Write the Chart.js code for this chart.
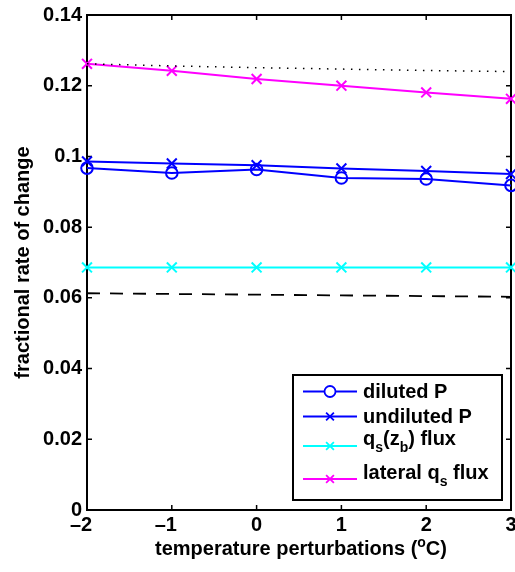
<!DOCTYPE html>
<html><head><meta charset="utf-8">
<script src="https://cdn.jsdelivr.net/npm/chart.js@4/dist/chart.umd.min.js"></script>
<style>html,body{margin:0;padding:0;background:#fff;} #wrap{width:515px;height:572px;position:relative;}</style>
</head><body><div id="wrap"><canvas id="c" width="515" height="572"></canvas></div>
<script>
// ---- data ----
const temps = [-2, -1, 0, 1, 2, 3];
const dilutedP = [0.0967, 0.0953, 0.0963, 0.0939, 0.0936, 0.0918];
const undilutedP = [0.0986, 0.0980, 0.0975, 0.0966, 0.0959, 0.0950];
const qsZbFlux = [0.0686, 0.0686, 0.0686, 0.0686, 0.0686, 0.0686];
const lateralQsFlux = [0.1262, 0.1242, 0.1219, 0.1200, 0.1181, 0.1163];
const dottedRef = [0.1262, 0.1256, 0.1251, 0.1247, 0.1243, 0.1240];
const dashedRef = [0.0613, 0.0611, 0.0609, 0.0607, 0.0605, 0.0603];
const legendLabels = ['diluted P', 'undiluted P', 'q_s(z_b) flux', 'lateral q_s flux'];
const xTitle = ['temperature perturbations (', '^o', 'C)'];
const yTitle = 'fractional rate of change';

const FONT = '"Liberation Sans", Arial, Helvetica, sans-serif';
const FS = 20;
const pts = arr => temps.map((t, i) => ({x: t, y: arr[i]}));
const fmtX = v => v < 0 ? '\u2013' + Math.abs(v) : String(v);

function line(label, arr, color, style, extra) {
  return Object.assign({
    label, data: pts(arr), borderColor: color, backgroundColor: 'rgba(0,0,0,0)',
    borderWidth: 2, pointStyle: style, pointRadius: style === 'circle' ? 5.8 : 7,
    pointBorderWidth: 2, pointBorderColor: color, pointBackgroundColor: 'rgba(0,0,0,0)',
    tension: 0, clip: false, fill: false
  }, extra || {});
}

const datasets = [
  line('dotted', dottedRef, '#000', false, {borderWidth: 1.5, borderDash: [1.5, 6.5], pointRadius: 0}),
  line('dashed', dashedRef, '#000', false, {borderWidth: 1.8, borderDash: [13, 10], pointRadius: 0}),
  line(legendLabels[0], dilutedP, '#0000ff', 'circle'),
  line(legendLabels[1], undilutedP, '#0000ff', 'crossRot'),
  line(legendLabels[2], qsZbFlux, '#00ffff', 'crossRot'),
  line(legendLabels[3], lateralQsFlux, '#ff00ff', 'crossRot'),
];

function drawRich(ctx, text, x, y, fs) {
  // "_c" => subscript char, "^c" => superscript char
  let cx = x;
  for (let i = 0; i < text.length; i++) {
    let ch = text[i], dy = 0, f = fs;
    if ((ch === '_' || ch === '^') && i + 1 < text.length) {
      dy = ch === '_' ? fs * 0.33 : -fs * 0.42;
      f = Math.round(fs * 0.72);
      ch = text[++i];
    }
    ctx.font = 'bold ' + f + 'px ' + FONT;
    ctx.fillText(ch, cx, y + dy);
    cx += ctx.measureText(ch).width;
  }
  return cx - x;
}
function richWidth(ctx, text, fs) {
  let w = 0;
  for (let i = 0; i < text.length; i++) {
    let ch = text[i], f = fs;
    if ((ch === '_' || ch === '^') && i + 1 < text.length) { f = Math.round(fs * 0.72); ch = text[++i]; }
    ctx.font = 'bold ' + f + 'px ' + FONT;
    w += ctx.measureText(ch).width;
  }
  return w;
}

const framePlugin = {
  id: 'frame',
  beforeDatasetsDraw(chart) {
    const {ctx, chartArea: a, scales} = chart;
    ctx.save();
    ctx.strokeStyle = '#000';
    ctx.lineWidth = 1.5;
    const tl = 5;
    scales.x.ticks.forEach(t => {
      const px = scales.x.getPixelForValue(t.value);
      ctx.beginPath();
      ctx.moveTo(px, a.bottom); ctx.lineTo(px, a.bottom - tl);
      ctx.moveTo(px, a.top); ctx.lineTo(px, a.top + tl);
      ctx.stroke();
    });
    scales.y.ticks.forEach(t => {
      const py = scales.y.getPixelForValue(t.value);
      ctx.beginPath();
      ctx.moveTo(a.left, py); ctx.lineTo(a.left + tl, py);
      ctx.moveTo(a.right, py); ctx.lineTo(a.right - tl, py);
      ctx.stroke();
    });
    ctx.lineWidth = 2;
    ctx.strokeRect(a.left, a.top, a.right - a.left, a.bottom - a.top);
    // x tick labels
    ctx.fillStyle = '#000';
    ctx.font = 'bold ' + FS + 'px ' + FONT;
    ctx.textAlign = 'center';
    ctx.textBaseline = 'middle';
    scales.x.ticks.forEach(t => {
      const px = scales.x.getPixelForValue(t.value);
      ctx.fillText(fmtX(t.value), px + (t.value < 0 ? -6 : 0), a.bottom + 15);
    });
    ctx.restore();
  },
  afterDraw(chart) {
    const {ctx, chartArea: a} = chart;
    ctx.save();
    ctx.fillStyle = '#000';
    ctx.textBaseline = 'alphabetic';
    ctx.textAlign = 'left';
    // x title
    const xt = xTitle.join('');
    const w = richWidth(ctx, xt, FS);
    drawRich(ctx, xt, (a.left + a.right) / 2 - w / 2 + 2, 555, FS);
    // y title
    ctx.save();
    ctx.translate(29, (a.top + a.bottom) / 2);
    ctx.rotate(-Math.PI / 2);
    ctx.font = 'bold ' + FS + 'px ' + FONT;
    ctx.textAlign = 'center';
    ctx.fillText(yTitle, 0, 0);
    ctx.restore();
    // legend
    const bx = 293, by = 375, bw = 209, bh = 125;
    ctx.fillStyle = '#fff';
    ctx.fillRect(bx, by, bw, bh);
    ctx.strokeStyle = '#000';
    ctx.lineWidth = 2;
    ctx.strokeRect(bx, by, bw, bh);
    const rows = [{ly: 391.5, ty: 398}, {ly: 416.5, ty: 423}, {ly: 446, ty: 445}, {ly: 479, ty: 479}];
    legendLabels.forEach((lab, i) => {
      const ds = chart.data.datasets[i + 2];
      const r = rows[i];
      ctx.strokeStyle = ds.borderColor;
      ctx.lineWidth = 2;
      ctx.setLineDash([]);
      ctx.beginPath(); ctx.moveTo(303, r.ly); ctx.lineTo(357, r.ly); ctx.stroke();
      ctx.lineWidth = 1.8;
      Chart.helpers.drawPoint(ctx, {pointStyle: ds.pointStyle, radius: 5.5, rotation: 0, borderWidth: 1.8}, 330, r.ly);
      ctx.fillStyle = '#000';
      drawRich(ctx, lab, 363, r.ty, FS);
    });
    ctx.restore();
  }
};

new Chart(document.getElementById('c'), {
  type: 'line',
  data: {datasets},
  options: {
    responsive: false, animation: false, devicePixelRatio: 1,
    layout: {autoPadding: false, padding: {top: 15, right: 4, left: 0, bottom: 0}},
    plugins: {legend: {display: false}, tooltip: {enabled: false}},
    scales: {
      x: {
        type: 'linear', min: -2, max: 3, offset: false,
        grid: {display: false, drawTicks: false, tickLength: 0},
        border: {display: false},
        ticks: {stepSize: 1, display: false, callback: fmtX},
        afterFit: s => { s.height = 62; }
      },
      y: {
        type: 'linear', min: 0, max: 0.14,
        grid: {display: false, drawTicks: false, tickLength: 0},
        border: {display: false},
        ticks: {stepSize: 0.02, color: '#000', padding: 5,
          font: {family: FONT, size: FS, weight: 'bold'},
          callback: v => String(Number(v.toFixed(2)))},
        afterFit: s => { s.width = 87; s.paddingTop = 0; s.paddingBottom = 0; }
      }
    }
  },
  plugins: [framePlugin]
});
</script></body></html>
